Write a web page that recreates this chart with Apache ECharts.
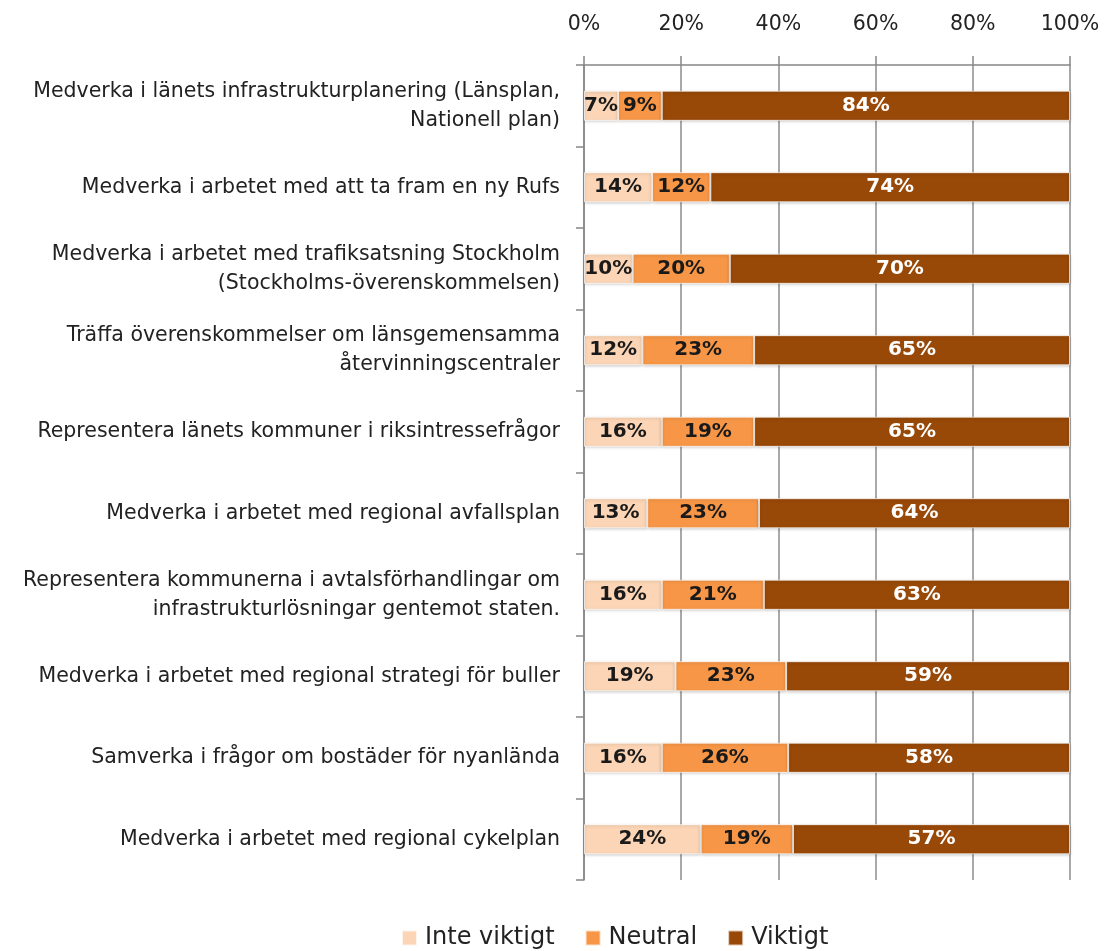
<!DOCTYPE html>
<html><head><meta charset="utf-8">
<script src="https://cdn.jsdelivr.net/npm/echarts@6/dist/echarts.min.js"></script>
<style>html,body{margin:0;padding:0;background:#fff}#c{width:1108px;height:951px}</style>
</head><body><div id="c"></div>
<script>
const categories = [
  "Medverka i länets infrastrukturplanering (Länsplan,\nNationell plan)",
  "Medverka i arbetet med att ta fram en ny Rufs",
  "Medverka i arbetet med trafiksatsning Stockholm\n(Stockholms-överenskommelsen)",
  "Träffa överenskommelser om länsgemensamma\nåtervinningscentraler",
  "Representera länets kommuner i riksintressefrågor",
  "Medverka i arbetet med regional avfallsplan",
  "Representera kommunerna i avtalsförhandlingar om\ninfrastrukturlösningar gentemot staten.",
  "Medverka i arbetet med regional strategi för buller",
  "Samverka i frågor om bostäder för nyanlända",
  "Medverka i arbetet med regional cykelplan"
];
const inteViktigt = [7, 14, 10, 12, 16, 13, 16, 19, 16, 24];
const neutral     = [9, 12, 20, 23, 19, 23, 21, 23, 26, 19];
const viktigt     = [84, 74, 70, 65, 65, 64, 63, 59, 58, 57];
const seriesNames = ["Inte viktigt", "Neutral", "Viktigt"];
const colors = ["#FBD5B5", "#F79646", "#984807"];
const labelColors = ["#1a1a1a", "#1a1a1a", "#ffffff"];

const raw = [inteViktigt, neutral, viktigt];
const totals = categories.map((_, i) => inteViktigt[i] + neutral[i] + viktigt[i]);

const FONT = 'DejaVu Sans';
const chart = echarts.init(document.getElementById('c'));
chart.setOption({
  animation: false,
  color: colors,
  grid: { left: 584, right: 38, top: 65, bottom: 71, containLabel: false },
  legend: {
    data: seriesNames,
    top: 921,
    left: 396,
    itemWidth: 15, itemHeight: 15, itemGap: 30,
    icon: 'rect',
    textStyle: { fontFamily: FONT, fontSize: 24, color: '#222', padding: [0, 0, 0, 3] }
  },
  xAxis: {
    type: 'value', position: 'top', min: 0, max: 100, interval: 20,
    axisLabel: { formatter: '{value}%', fontFamily: FONT, fontSize: 20.5, color: '#222', margin: 30 },
    axisLine: { show: true, lineStyle: { color: '#868686', width: 1.5 } },
    axisTick: { show: true, length: 9, lineStyle: { color: '#868686', width: 1.5 } },
    splitLine: { show: true, lineStyle: { color: '#8c8c8c', width: 1.5 } }
  },
  yAxis: {
    type: 'category', inverse: true, data: categories,
    axisLine: { show: true, lineStyle: { color: '#868686', width: 1.5 } },
    axisTick: { show: true, length: 8, lineStyle: { color: '#868686', width: 1.5 } },
    axisLabel: { fontFamily: FONT, fontSize: 20.5, color: '#222', margin: 24, lineHeight: 29, align: 'right' }
  },
  series: raw.map((arr, s) => ({
    name: seriesNames[s],
    type: 'bar',
    stack: 'total',
    barWidth: '37%',
    data: arr.map((v, i) => ({ value: v * 100 / totals[i], raw: v })),
    itemStyle: { color: colors[s], borderColor: 'rgba(255,255,255,0.7)', borderWidth: 1,
                 shadowColor: 'rgba(0,0,0,0.25)', shadowBlur: 3, shadowOffsetY: 1 },
    label: {
      show: true, position: 'inside',
      formatter: p => p.data.raw + '%',
      fontFamily: FONT, fontWeight: 'bold', fontSize: 20, color: labelColors[s]
    }
  }))
});
</script>
</body></html>
